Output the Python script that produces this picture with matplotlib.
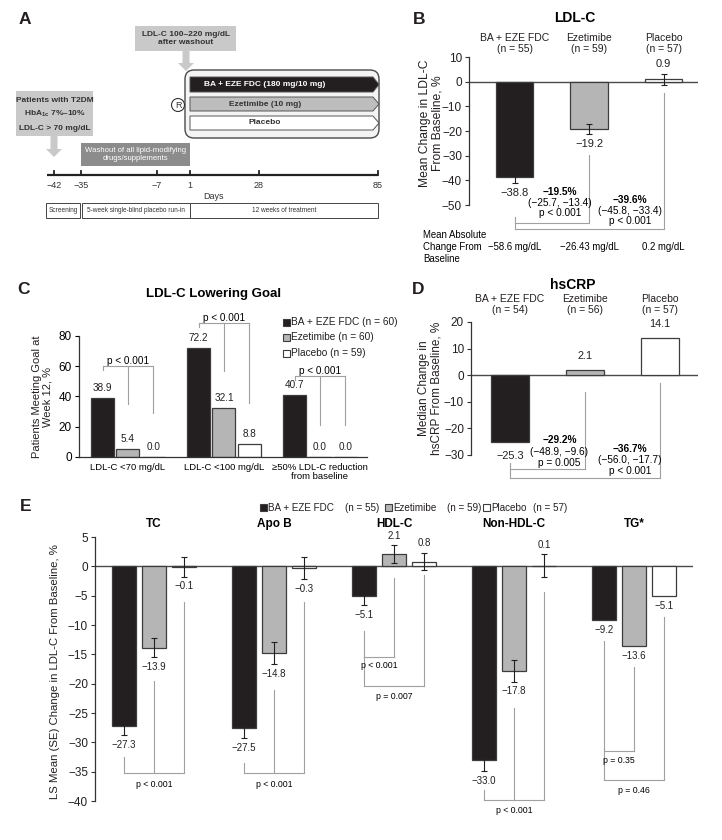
import matplotlib
matplotlib.use('Agg')
import matplotlib.pyplot as plt
from matplotlib.patches import Rectangle, FancyBboxPatch, Polygon, Circle, FancyArrow
import numpy as np

plt.rcParams['font.family'] = ['Liberation Sans', 'DejaVu Sans']
plt.rcParams['mathtext.fontset'] = 'custom'
plt.rcParams['mathtext.rm'] = 'Liberation Sans'
plt.rcParams['mathtext.bf'] = 'Liberation Sans:bold'
plt.rcParams['axes.unicode_minus'] = True

# ---------------- data ----------------
arms = ['BA + EZE FDC', 'Ezetimibe', 'Placebo']

# Panel A (study design)
timeline_days = [-42, -35, -7, 1, 28, 85]
timeline_px = [54, 81, 157, 190, 259, 378]
phases = ['Screening', '5-week single-blind placebo run-in', '12 weeks of treatment']
phase_px = [(46, 80), (82, 190), (190, 378)]
treatments = ['BA + EZE FDC (180 mg/10 mg)', 'Ezetimibe (10 mg)', 'Placebo']

# Panel B (LDL-C)
ldl_n = [55, 59, 57]
ldl_mean = [-38.8, -19.2, 0.9]
ldl_se = [2.2, 2.0, 2.1]
ldl_abs = ['−58.6 mg/dL', '−26.43 mg/dL', '0.2 mg/dL']
ldl_diff = ['−19.5%', '−39.6%']
ldl_ci = ['(−25.7, −13.4)', '(−45.8, −33.4)']
ldl_p = ['p < 0.001', 'p < 0.001']

# Panel C (LDL-C lowering goal)
goal_labels = ['LDL-C <70 mg/dL', 'LDL-C <100 mg/dL', '≥50% LDL-C reduction\nfrom baseline']
goal_ba = [38.9, 72.2, 40.7]
goal_eze = [5.4, 32.1, 0.0]
goal_pbo = [0.0, 8.8, 0.0]
goal_n = [60, 60, 59]
goal_p = ['p < 0.001', 'p < 0.001', 'p < 0.001']

# Panel D (hsCRP)
crp_n = [54, 56, 57]
crp_median = [-25.3, 2.1, 14.1]
crp_diff = ['−29.2%', '−36.7%']
crp_ci = ['(−48.9, −9.6)', '(−56.0, −17.7)']
crp_p = ['p = 0.005', 'p < 0.001']

# Panel E (other lipids)
lipids = ['TC', 'Apo B', 'HDL-C', 'Non-HDL-C', 'TG*']
lip_n = [55, 59, 57]
lip_ba = [-27.3, -27.5, -5.1, -33.0, -9.2]
lip_eze = [-13.9, -14.8, 2.1, -17.8, -13.6]
lip_pbo = [-0.1, -0.3, 0.8, 0.1, -5.1]
lip_se_ba = [1.5, 1.8, 1.5, 1.9, np.nan]
lip_se_eze = [1.6, 1.9, 1.5, 1.9, np.nan]
lip_se_pbo = [1.7, 1.9, 1.5, 2.0, np.nan]
lip_p = [['p < 0.001'], ['p < 0.001'], ['p < 0.001', 'p = 0.007'], ['p < 0.001'], ['p = 0.35', 'p = 0.46']]

# ---------------- style ----------------
W, H = 722, 840
BLACK = '#231f20'
GRAY = '#b5b5b5'
EDGE = '#3c3c3c'
LINE = '#a0a0a0'
TXT = '#231f20'
ARM_COLORS = [BLACK, GRAY, 'white']

fig = plt.figure(figsize=(W / 100, H / 100), dpi=100)
fig.patch.set_facecolor('white')


def px_axes(x0, y0, x1, y1):
    return fig.add_axes([x0 / W, 1 - y1 / H, (x1 - x0) / W, (y1 - y0) / H])


def ftext(x, y, s, **kw):
    kw.setdefault('ha', 'center')
    kw.setdefault('va', 'center')
    kw.setdefault('color', TXT)
    return fig.text(x / W, 1 - y / H, s, **kw)


def fsquare(x, y, color, size=7):
    fig.add_artist(Rectangle((x / W, 1 - (y + size / 2) / H), size / W, size / H,
                             transform=fig.transFigure, facecolor=color,
                             edgecolor=EDGE, lw=0.8))


def fmt(v):
    return f'{v:.1f}'.replace('-', '−')


def vlabel(ax, x, v, err, off_px, fs):
    e = 0 if (err is None or np.isnan(err)) else err
    if v >= 0:
        y, d = v + e, off_px
    else:
        y, d = v - e, -off_px
    ax.annotate(fmt(v), (x, y), xytext=(0, d * 0.72), textcoords='offset points',
                ha='center', va='center', fontsize=fs, color=TXT, annotation_clip=False)


def vline(ax, x, y0, y1):
    ax.plot([x, x], [y0, y1], color=LINE, lw=0.8, clip_on=False, zorder=1)


def hline(ax, x0, x1, y):
    ax.plot([x0, x1], [y, y], color=LINE, lw=0.8, clip_on=False, zorder=1)


def style_left_only(ax, fs=8.5):
    for s in ['top', 'right', 'bottom']:
        ax.spines[s].set_visible(False)
    ax.spines['left'].set_color('#333333')
    ax.spines['left'].set_linewidth(0.9)
    ax.set_xticks([])
    ax.tick_params(axis='y', direction='out', length=3, width=0.8, labelsize=fs,
                   colors='#333333', labelcolor=TXT, pad=2)
    ax.set_facecolor('none')


# ================= Panel A =================
axA = px_axes(0, 0, 400, 260)
axA.set_xlim(0, 400)
axA.set_ylim(260, 0)
axA.axis('off')

LIGHT = '#c9c9c9'
axA.add_patch(Rectangle((16, 91), 77, 45, facecolor=LIGHT, edgecolor='none'))
axA.text(54.5, 100, 'Patients with T2DM', ha='center', va='center', fontsize=6, fontweight='bold', color='#333333')
axA.text(54.5, 114, r'HbA$_{\mathbf{1c}}$ 7%–10%', ha='center', va='center', fontsize=6, fontweight='bold', color='#333333')
axA.text(54.5, 128, 'LDL-C > 70 mg/dL', ha='center', va='center', fontsize=6, fontweight='bold', color='#333333')
axA.add_patch(FancyArrow(54, 136, 0, 21, width=7, head_width=16, head_length=8,
                         length_includes_head=True, color=LIGHT, lw=0))

axA.add_patch(Rectangle((81, 143), 109, 23, facecolor='#8c8c8c', edgecolor='none'))
axA.text(135.5, 154.5, 'Washout of all lipid-modifying\ndrugs/supplements', ha='center', va='center',
         fontsize=5.6, color='white', linespacing=1.15)

axA.add_patch(Rectangle((135, 26), 101, 25, facecolor=LIGHT, edgecolor='none'))
axA.text(185.5, 38.5, 'LDL-C 100–220 mg/dL\nafter washout', ha='center', va='center', fontsize=6,
         fontweight='bold', color='#333333', linespacing=1.2)
axA.add_patch(FancyArrow(186, 51, 0, 20, width=7, head_width=16, head_length=8,
                         length_includes_head=True, color=LIGHT, lw=0))

axA.add_patch(FancyBboxPatch((185, 70), 194, 68, boxstyle='round,pad=0,rounding_size=9',
                             facecolor='#f4f4f4', edgecolor='#4a4a4a', lw=1.0))
bar_rows = [(77, 92), (97, 111), (116, 130)]
bar_fc = [BLACK, '#bdbdbd', 'white']
bar_tc = ['white', '#333333', '#333333']
for (y0, y1), fc, tc, lab in zip(bar_rows, bar_fc, bar_tc, treatments):
    ym = (y0 + y1) / 2
    axA.add_patch(Polygon([(190, y0), (373, y0), (379, ym), (373, y1), (190, y1)],
                          closed=True, facecolor=fc, edgecolor='#555555', lw=0.7))
    axA.text(265, ym, lab, ha='center', va='center', fontsize=6, fontweight='bold', color=tc)
axA.add_patch(Circle((178, 105), 6.5, facecolor='white', edgecolor='#333333', lw=0.8))
axA.text(178, 105.5, 'R', ha='center', va='center', fontsize=6.5, color='#333333')

# timeline
axA.plot([47, 378], [175, 175], color='#222222', lw=1.6, solid_capstyle='butt')
for px, d in zip(timeline_px, timeline_days):
    axA.plot([px, px], [171, 175], color='#222222', lw=1.3)
    axA.text(px, 185.5, str(d).replace('-', '−'), ha='center', va='center', fontsize=6.5, color='#333333')
axA.text(213, 196.5, 'Days', ha='center', va='center', fontsize=6.5, color='#333333')
for (x0, x1), lab in zip(phase_px, phases):
    axA.add_patch(Rectangle((x0, 203), x1 - x0, 15, facecolor='white', edgecolor='#444444', lw=0.7))
    axA.text((x0 + x1) / 2, 210.5, lab, ha='center', va='center', fontsize=4.7, color='#333333')

# ================= Panel B =================
axB = px_axes(469, 57, 698, 205)
xB = np.arange(3)
axB.bar(xB, ldl_mean, width=0.5, color=ARM_COLORS, edgecolor=EDGE, linewidth=0.9, zorder=2)
axB.errorbar(xB, ldl_mean, yerr=ldl_se, fmt='none', ecolor=BLACK, elinewidth=0.8, capsize=2, capthick=0.8, zorder=3)
axB.axhline(0, color='#4a4a4a', lw=1.0, zorder=1)
axB.set_xlim(-0.61, 2.46)
axB.set_ylim(-50, 10)
axB.set_yticks(range(-50, 11, 10))
style_left_only(axB)
for x, v, e in zip(xB, ldl_mean, ldl_se):
    vlabel(axB, x, v, e, 10, 8)
for x, a, n in zip(xB, arms, ldl_n):
    axB.text(x, 15.5, f'{a}\n(n = {n})', ha='center', va='center', fontsize=7.5,
             linespacing=1.1, color=TXT, clip_on=False)
axB.text(0.81, 25.8, 'LDL-C', ha='center', va='center', fontsize=10, fontweight='bold', clip_on=False)
# comparison brackets
vline(axB, 0, -54.8, -59.7)
vline(axB, 1, -29.8, -57.3)
vline(axB, 2, -4.4, -59.7)
hline(axB, 0, 1, -57.3)
hline(axB, 0, 2, -59.7)
for xt, ys, d, ci, p in zip([0.61, 1.55], [(-44.8, -49.2, -53.2), (-48.0, -52.4, -56.5)],
                            ldl_diff, ldl_ci, ldl_p):
    axB.text(xt, ys[0], d, ha='center', va='center', fontsize=7.3, fontweight='bold', clip_on=False)
    axB.text(xt, ys[1], ci, ha='center', va='center', fontsize=7.3, clip_on=False)
    axB.text(xt, ys[2], p, ha='center', va='center', fontsize=7.3, clip_on=False)
axB.text(-1.23, -67, 'Mean Absolute\nChange From\nBaseline', ha='left', va='center', fontsize=6.9,
         linespacing=1.25, clip_on=False)
for x, s in zip(xB, ldl_abs):
    axB.text(x, -67, s, ha='center', va='center', fontsize=6.9, clip_on=False)
ftext(431, 123, 'Mean Change in LDL-C\nFrom Baseline, %', rotation=90, fontsize=8.7, linespacing=1.0)

# ================= Panel C =================
axC = px_axes(79, 336, 367, 457)
xC = np.arange(3)
offC, wC = 0.265, 0.24
for k, (vals, col) in enumerate(zip([goal_ba, goal_eze, goal_pbo], ARM_COLORS)):
    xs = xC + (k - 1) * offC
    axC.bar(xs, vals, wC, color=col, edgecolor=EDGE, linewidth=0.9, zorder=2)
    for x, v in zip(xs, vals):
        vlabel(axC, x, v, 0, 10, 7.2)
axC.set_xlim(-0.51, 2.49)
axC.set_ylim(0, 80)
axC.set_yticks([0, 20, 40, 60, 80])
for s in ['top', 'right']:
    axC.spines[s].set_visible(False)
for s in ['left', 'bottom']:
    axC.spines[s].set_color('#333333')
    axC.spines[s].set_linewidth(0.9)
axC.tick_params(axis='y', direction='out', length=3, width=0.8, labelsize=8.5, pad=2)
axC.set_xticks(xC)
axC.set_xticklabels(goal_labels, fontsize=6.8, linespacing=1.1)
axC.tick_params(axis='x', length=0, pad=4)
axC.set_facecolor('none')
c_levels = [60.2, 88.6, 53.5]
c_eze_top = [35.0, 57.0, 21.0]
c_pbo_top = [29.0, 36.0, 21.0]
for g in range(3):
    lvl = c_levels[g]
    hline(axC, g - offC, g + offC, lvl)
    vline(axC, g - offC, lvl - 2.5, lvl)
    vline(axC, g, c_eze_top[g], lvl)
    vline(axC, g + offC, c_pbo_top[g], lvl)
    axC.text(g, lvl + 3.5, goal_p[g], ha='center', va='center', fontsize=7.2, clip_on=False)
axC.text(0.89, 107.8, 'LDL-C Lowering Goal', ha='center', va='center', fontsize=9.5,
         fontweight='bold', clip_on=False)
ftext(42, 397, 'Patients Meeting Goal at\nWeek 12, %', rotation=90, fontsize=8, linespacing=1.05)
for k, (a, n, col) in enumerate(zip(arms, goal_n, ARM_COLORS)):
    y = 322 + 15.5 * k
    fsquare(283, y, col)
    ftext(291, y, f'{a} (n = {n})', ha='left', fontsize=7.3)

# ================= Panel D =================
axD = px_axes(471, 322, 698, 455)
xD = np.arange(3)
axD.bar(xD, crp_median, width=0.5, color=ARM_COLORS, edgecolor=EDGE, linewidth=0.9, zorder=2)
axD.axhline(0, color='#4a4a4a', lw=1.0, zorder=1)
axD.set_xlim(-0.52, 2.51)
axD.set_ylim(-30, 20)
axD.set_yticks(range(-30, 21, 10))
style_left_only(axD)
for x, v in zip(xD, crp_median):
    vlabel(axD, x, v, 0, 13.5, 7.8)
for x, a, n in zip(xD, arms, crp_n):
    axD.text(x, 26.5, f'{a}\n(n = {n})', ha='center', va='center', fontsize=7.5,
             linespacing=1.1, color=TXT, clip_on=False)
axD.text(0.84, 33.8, 'hsCRP', ha='center', va='center', fontsize=10, fontweight='bold', clip_on=False)
vline(axD, 0, -33.0, -38.7)
vline(axD, 1, -6.4, -35.3)
vline(axD, 2, -3.0, -38.7)
hline(axD, 0, 1, -35.3)
hline(axD, 0, 2, -38.7)
for xt, ys, d, ci, p in zip([0.66, 1.6], [(-24.4, -29.0, -33.1), (-27.8, -32.0, -36.1)],
                            crp_diff, crp_ci, crp_p):
    axD.text(xt, ys[0], d, ha='center', va='center', fontsize=7.3, fontweight='bold', clip_on=False)
    axD.text(xt, ys[1], ci, ha='center', va='center', fontsize=7.3, clip_on=False)
    axD.text(xt, ys[2], p, ha='center', va='center', fontsize=7.3, clip_on=False)
ftext(430, 388, 'Median Change in\nhsCRP From Baseline, %', rotation=90, fontsize=8.5, linespacing=1.05)

# ================= Panel E =================
axE = px_axes(95, 537, 693, 801)
xE = np.arange(5)
offE, wE = 0.25, 0.205
for k, (vals, ses, col) in enumerate(zip([lip_ba, lip_eze, lip_pbo],
                                         [lip_se_ba, lip_se_eze, lip_se_pbo], ARM_COLORS)):
    xs = xE + (k - 1) * offE
    axE.bar(xs, vals, wE, color=col, edgecolor=EDGE, linewidth=0.9, zorder=2)
    se = np.array(ses, dtype=float)
    m = ~np.isnan(se)
    axE.errorbar(xs[m], np.array(vals)[m], yerr=se[m], fmt='none', ecolor=BLACK,
                 elinewidth=0.8, capsize=2, capthick=0.8, zorder=3)
    for x, v, e in zip(xs, vals, se):
        vlabel(axE, x, v, e, 9.5, 7)
axE.axhline(0, color='#4a4a4a', lw=1.0, zorder=1)
axE.set_xlim(-0.49, 4.49)
axE.set_ylim(-40, 5)
axE.set_yticks(range(-40, 6, 5))
style_left_only(axE)
for x, t in zip(xE, lipids):
    axE.text(x, 7.15, t, ha='center', va='center', fontsize=8.5, fontweight='bold', clip_on=False)

# brackets: (x list, tops, level, text x, text y, text)
e_brackets = [
    ([-offE, 0, offE], [-32.5, -19.6, -6.1], -35.3, 0, -37.2, lip_p[0][0]),
    ([1 - offE, 1, 1 + offE], [-33.6, -21.1, -6.1], -35.3, 1, -37.2, lip_p[1][0]),
    ([2 - offE, 2], [-11.0, -2.0], -15.5, 2 - offE / 2, -16.9, lip_p[2][0]),
    ([2 - offE, 2 + offE], [-15.5, -1.4], -20.4, 2, -22.2, lip_p[2][1]),
    ([3 - offE, 3, 3 + offE], [-38.2, -24.2, -4.3], -39.9, 3, -41.7, lip_p[3][0]),
    ([4 - offE, 4], [-12.8, -17.2], -31.5, 4 - offE / 2, -33.1, lip_p[4][0]),
    ([4 - offE, 4 + offE], [-31.5, -8.7], -36.5, 4, -38.2, lip_p[4][1]),
]
for xs, tops, lvl, tx, ty, s in e_brackets:
    hline(axE, xs[0], xs[-1], lvl)
    for x, t in zip(xs, tops):
        vline(axE, x, t, lvl)
    axE.text(tx, ty, s, ha='center', va='center', fontsize=6.3, clip_on=False)
ftext(55, 672, 'LS Mean (SE) Change in LDL-C From Baseline, %', rotation=90, fontsize=8.2)

# legend E
leg_sq = [260, 385, 483]
leg_n_x = [345, 447, 533]
for sx, nx, a, n, col in zip(leg_sq, leg_n_x, arms, lip_n, ARM_COLORS):
    fsquare(sx, 508, col)
    ftext(sx + 8, 508, a, ha='left', fontsize=7.1)
    ftext(nx, 508, f'(n = {n})', ha='left', fontsize=7.1)

# panel letters
for lab, (x, y) in zip('ABCDE', [(25, 19), (419, 19), (24, 290), (418, 289), (26, 507)]):
    ftext(x, y, lab, fontsize=12.5, fontweight='bold')

fig.savefig('out.png', dpi=100, facecolor='white')
